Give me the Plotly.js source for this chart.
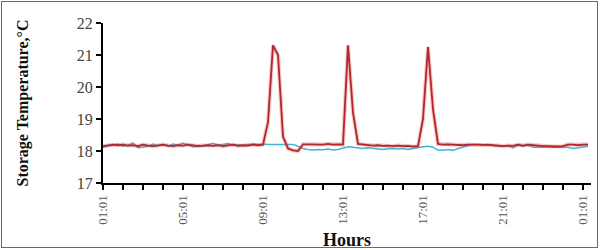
<!DOCTYPE html>
<html>
<head>
<meta charset="utf-8">
<script src="https://cdn.plot.ly/plotly-3.0.1.min.js"></script>
<style>
  html, body { margin: 0; padding: 0; background: #fff; }
  #wrap { position: relative; width: 600px; height: 250px; }
  #chart { position: absolute; left: 0; top: 0; width: 600px; height: 250px; }
  #frame { position: absolute; left: 1px; top: 1px; width: 597px; height: 247px;
           box-sizing: border-box; border: 1px solid #6a6a6a; pointer-events: none; }
</style>
</head>
<body>
<div id="wrap"><div id="chart"></div><div id="frame"></div></div>
<script>
// Hours after 01:01 (sampled every 15 minutes)
const hours = [];
for (let i = 0; i < 98; i++) hours.push(i * 0.25);

// Red series (storage temperature with heating peaks), °C
const redTemp = [
  18.15, 18.18, 18.20, 18.18, 18.20, 18.17, 18.18, 18.15,
  18.20, 18.17, 18.15, 18.17, 18.20, 18.17, 18.15, 18.18,
  18.17, 18.20, 18.18, 18.15, 18.17, 18.18, 18.16, 18.18,
  18.15, 18.17, 18.20, 18.16, 18.18, 18.17, 18.20, 18.18,
  18.20, 18.90, 21.30, 21.00, 18.45, 18.08, 18.02, 18.00,
  18.21, 18.21, 18.20, 18.21, 18.20, 18.22, 18.20, 18.21,
  18.20, 21.30, 19.20, 18.22,
  18.20, 18.18, 18.17, 18.18, 18.16, 18.17, 18.15, 18.17, 18.15, 18.16, 18.14, 18.15,
  19.00, 21.25, 19.30, 18.22,
  18.20, 18.21, 18.20, 18.20, 18.18, 18.20, 18.21, 18.20, 18.19, 18.20,
  18.18, 18.17, 18.15, 18.17, 18.16, 18.20, 18.17, 18.20, 18.18, 18.17,
  18.15, 18.15, 18.14, 18.14, 18.15, 18.20, 18.20, 18.18, 18.20, 18.20
];

// Cyan series, °C
const cyanTemp = [
  18.12, 18.15, 18.20, 18.22, 18.15, 18.18, 18.25, 18.10,
  18.12, 18.15, 18.22, 18.18, 18.20, 18.15, 18.22, 18.18,
  18.25, 18.20, 18.13, 18.18, 18.15, 18.20, 18.24, 18.18,
  18.20, 18.23, 18.18, 18.20, 18.17, 18.20, 18.22, 18.20,
  18.22, 18.20, 18.20, 18.22, 18.20, 18.22, 18.20, 18.15,
  18.08, 18.05, 18.03, 18.05, 18.04, 18.06, 18.03, 18.05,
  18.08, 18.13, 18.12, 18.10,
  18.08, 18.10, 18.09, 18.08, 18.05, 18.07, 18.08, 18.06, 18.08, 18.05, 18.08, 18.12,
  18.13, 18.15, 18.12, 18.03,
  18.02, 18.05, 18.02, 18.08, 18.12, 18.18, 18.20, 18.20, 18.18, 18.19,
  18.17, 18.15, 18.15, 18.17, 18.10, 18.18, 18.15, 18.18, 18.12, 18.12,
  18.13, 18.12, 18.12, 18.13, 18.12, 18.12, 18.08, 18.10, 18.12, 18.15
];

// Tick labels
const xTickVals = [0, 4, 8, 12, 16, 20, 24];
const xTickText = ["01:01", "05:01", "09:01", "13:01", "17:01", "21:01", "01:01"];
const yTickVals = [17, 18, 19, 20, 21, 22];

const serif = "Liberation Serif";

const traces = [
  { x: hours, y: cyanTemp, type: "scatter", mode: "lines",
    line: { color: "#3fb6d3", width: 1.5 }, name: "Cyan" },
  { x: hours, y: redTemp, type: "scatter", mode: "lines",
    line: { color: "rgba(235,90,90,0.35)", width: 4 }, showlegend: false, hoverinfo: "skip" },
  { x: hours, y: redTemp, type: "scatter", mode: "lines",
    line: { color: "#b3262c", width: 1.8 }, name: "Red" }
];

const layout = {
  width: 600, height: 250,
  margin: { l: 103, r: 9, t: 23, b: 67 },
  paper_bgcolor: "#ffffff", plot_bgcolor: "#ffffff",
  showlegend: false,
  font: { family: serif, color: "#333" },
  xaxis: {
    range: [0, 24.4],
    tickmode: "array", tickvals: xTickVals, ticktext: xTickText,
    tickangle: -90,
    tickfont: { family: serif, size: 13, color: "#555" },
    ticks: "outside", ticklen: 5, tickwidth: 1.5, tickcolor: "#000",
    minor: { tickmode: "linear", tick0: 0, dtick: 1, ticks: "outside", ticklen: 5, tickwidth: 1.5, tickcolor: "#000" },
    showline: true, linecolor: "#000", linewidth: 2,
    showgrid: false, zeroline: false,
    title: { text: "<b>Hours</b>", font: { family: serif, size: 18, color: "#111" }, standoff: 10 }
  },
  yaxis: {
    range: [17, 22],
    tickmode: "array", tickvals: yTickVals,
    tickfont: { family: serif, size: 16, color: "#444" },
    ticks: "outside", ticklen: 5, tickwidth: 1.5, tickcolor: "#000",
    showline: true, linecolor: "#000", linewidth: 2,
    showgrid: false, zeroline: false,
    title: { text: "<b>Storage Temperature,°C</b>", font: { family: serif, size: 16, color: "#111" }, standoff: 44 }
  }
};

Plotly.newPlot("chart", traces, layout, { staticPlot: true, displayModeBar: false });
</script>
</body>
</html>
